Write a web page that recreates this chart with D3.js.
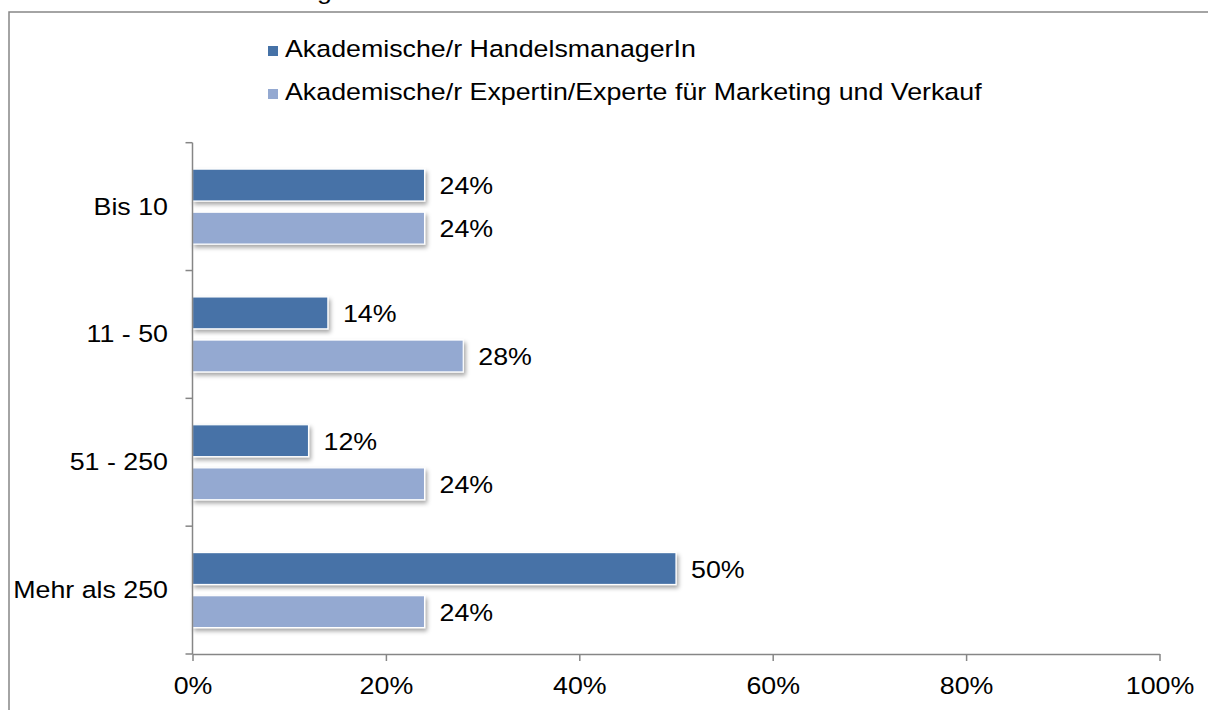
<!DOCTYPE html>
<html>
<head>
<meta charset="utf-8">
<script src="https://cdn.jsdelivr.net/npm/d3@7/dist/d3.min.js"></script>
<style>
  body { margin: 0; background: #fff; overflow: hidden; }
  svg { display: block; font-family: "Liberation Sans", Arial, sans-serif; }
</style>
</head>
<body>
<div id="chart"></div>
<script>
// data
var categories = ["Bis 10", "11 - 50", "51 - 250", "Mehr als 250"];
var seriesNames = ["Akademische/r HandelsmanagerIn", "Akademische/r Expertin/Experte für Marketing und Verkauf"];
var handelsmanager = [0.24, 0.14, 0.12, 0.50];
var expertin = [0.24, 0.28, 0.24, 0.24];
var xTicks = [0, 0.2, 0.4, 0.6, 0.8, 1.0];

var colors = ["#4672A7", "#94A9D1"];
var seriesValues = [handelsmanager, expertin];

var W = 1208, H = 710;
var stretch = "scale(1.14,1)";
var fontSize = 23.5;
var axisColor = "#868686";

var svg = d3.select("#chart")
	.append("svg")
	.attr("width", W)
	.attr("height", H);

var defs = svg.append("defs");
var shadow = defs.append("filter")
	.attr("id", "shadow")
	.attr("x", "-5%").attr("y", "-30%")
	.attr("width", "120%").attr("height", "180%");
shadow.append("feDropShadow")
	.attr("dx", 2)
	.attr("dy", 3)
	.attr("stdDeviation", 2)
	.attr("flood-color", "#000")
	.attr("flood-opacity", 0.35);

// frame (cut by the window on the right and bottom)
svg.append("rect")
	.attr("x", 9)
	.attr("y", 12)
	.attr("width", 1400)
	.attr("height", 900)
	.attr("fill", "none")
	.attr("stroke", axisColor)
	.attr("stroke-width", 1.5);

// remains of a title above the frame
svg.append("text")
	.attr("transform", "translate(317,-1) " + stretch)
	.attr("font-size", fontSize)
	.attr("fill", "#000")
	.text("g");

var x = d3.scaleLinear().domain([0, 1]).range([192.5, 1159.5]);
var y = d3.scaleBand().domain(categories).range([142.7, 654]);
var inner = d3.scaleBand()
	.domain(seriesNames)
	.range([y.bandwidth() / 2 - 37.5, y.bandwidth() / 2 + 37.5])
	.paddingInner(0.26);

// bars
var groups = svg.selectAll("g.cat")
	.data(categories)
	.enter().append("g")
	.attr("class", "cat")
	.attr("transform", function(d) { return "translate(0," + y(d) + ")"; });

seriesNames.forEach(function(s, si) {
	groups.append("rect")
		.attr("x", x(0))
		.attr("y", inner(s))
		.attr("width", function(d, i) { return x(seriesValues[si][i]) - x(0); })
		.attr("height", inner.bandwidth())
		.attr("fill", colors[si])
		.attr("stroke", "#fff")
		.attr("stroke-width", 1.2)
		.attr("filter", "url(#shadow)");

	groups.append("text")
		.attr("transform", function(d, i) {
			return "translate(" + (x(seriesValues[si][i]) + 15) + "," + (inner(s) + inner.bandwidth() / 2 + 9) + ") " + stretch;
		})
		.attr("font-size", fontSize)
		.attr("fill", "#000")
		.text(function(d, i) { return Math.round(seriesValues[si][i] * 100) + "%"; });
});

// y axis: line plus ticks on the band edges
var yAxis = svg.append("g").attr("class", "y axis");
yAxis.append("line")
	.attr("x1", x(0)).attr("x2", x(0))
	.attr("y1", y.range()[0]).attr("y2", y.range()[1])
	.attr("stroke", axisColor)
	.attr("stroke-width", 1.5);
var edges = categories.map(function(c) { return y(c); }).concat([y.range()[1]]);
yAxis.selectAll("line.tick")
	.data(edges)
	.enter().append("line")
	.attr("class", "tick")
	.attr("x1", x(0) - 7).attr("x2", x(0))
	.attr("y1", function(d) { return d; })
	.attr("y2", function(d) { return d; })
	.attr("stroke", axisColor)
	.attr("stroke-width", 1.5);
yAxis.selectAll("text")
	.data(categories)
	.enter().append("text")
	.attr("transform", function(d) { return "translate(168," + (y(d) + y.bandwidth() / 2 + 8) + ") " + stretch; })
	.attr("text-anchor", "end")
	.attr("font-size", fontSize)
	.attr("fill", "#000")
	.text(function(d) { return d; });

// x axis
var xAxis = d3.axisBottom(x)
	.tickValues(xTicks)
	.tickFormat(d3.format(".0%"))
	.tickSizeInner(7)
	.tickSizeOuter(0);

var gx = svg.append("g")
	.attr("class", "x axis")
	.attr("transform", "translate(0," + y.range()[1] + ")")
	.call(xAxis);
gx.select(".domain").attr("stroke", axisColor).attr("stroke-width", 1.5);
gx.selectAll(".tick line").attr("stroke", axisColor).attr("stroke-width", 1.5);
gx.selectAll(".tick text")
	.attr("y", null)
	.attr("dy", null)
	.attr("transform", "translate(0,40) " + stretch)
	.attr("font-size", fontSize)
	.attr("font-family", "Liberation Sans, Arial, sans-serif")
	.attr("fill", "#000");

// legend
var legend = svg.selectAll("g.legend")
	.data(seriesNames)
	.enter().append("g")
	.attr("class", "legend")
	.attr("transform", function(d, i) { return "translate(268," + (46 + i * 43) + ")"; });
legend.append("rect")
	.attr("width", 10)
	.attr("height", 10)
	.attr("fill", function(d, i) { return colors[i]; });
legend.append("text")
	.attr("transform", "translate(17,11) " + stretch)
	.attr("font-size", fontSize)
	.attr("fill", "#000")
	.text(function(d) { return d; });
</script>
</body>
</html>
